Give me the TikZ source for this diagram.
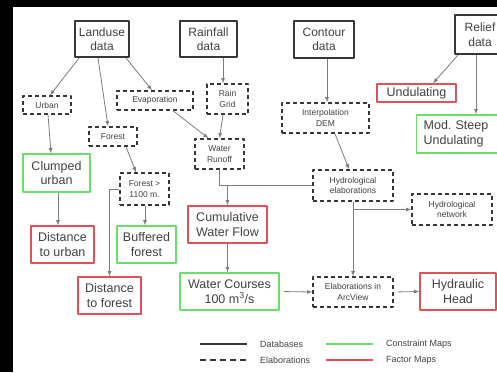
\documentclass[tikz,border=0pt]{standalone}
\usepackage{fontspec}
\setmainfont{Liberation Sans}
\usetikzlibrary{arrows}

\definecolor{factorred}{RGB}{222,82,90}
\definecolor{constraintgreen}{RGB}{104,224,104}
\definecolor{linkgray}{RGB}{125,125,125}
\definecolor{boxgray}{RGB}{55,55,55}
\definecolor{labelgray}{RGB}{65,65,65}

\begin{document}
\begin{tikzpicture}[x=1pt,y=-1pt,join=round,
  database/.style={draw=boxgray,text=labelgray,line width=1.6pt,align=center,inner sep=0pt,font=\fontsize{12}{14.5}\selectfont},
  elaboration/.style={draw=boxgray,text=labelgray,line width=1.5pt,dash pattern=on 4pt off 3pt,align=center,inner sep=0pt,font=\fontsize{8.5}{10.5}\selectfont},
  factor/.style={database,draw=factorred,line width=1.4pt,font=\fontsize{12.5}{14.5}\selectfont},
  constraint/.style={database,draw=constraintgreen,line width=1.4pt,font=\fontsize{12.5}{14.5}\selectfont},
  link/.style={draw=linkgray,line width=0.8pt,-latex},
  legendtext/.style={anchor=west,inner sep=0pt,text=labelgray,font=\fontsize{9}{11}\selectfont}]
        \useasboundingbox (0,0) rectangle (497,372);
        \fill[white] (0,0) rectangle (497,372);
        \fill[black] (0,0) rectangle (13,372);
        \fill[black] (0,0) rectangle (497,7);
        % databases
        \node[database,minimum width=54pt,minimum height=36pt] (landuse) at (102,39) {Landuse\\data};
        \node[database,minimum width=57pt,minimum height=36pt] (rainfall) at (208.5,39) {Rainfall\\data};
        \node[database,minimum width=60pt,minimum height=37pt] (contour) at (324,39.5) {Contour\\data};
        \node[database,minimum width=50pt,minimum height=39pt] (relief) at (480,34.5) {Relief\\data};
        % elaborations
        \node[elaboration,minimum width=48pt,minimum height=18pt] (urban) at (47,105) {Urban};
        \node[elaboration,minimum width=76pt,minimum height=19pt] (evap) at (155,100.5) {Evaporation};
        \node[elaboration,minimum width=41pt,minimum height=30pt] (raingrid) at (227.5,99) {Rain\\Grid};
        \node[elaboration,minimum width=48pt,minimum height=19pt] (forest) at (113,136.5) {Forest};
        \node[elaboration,minimum width=49pt,minimum height=30pt] (runoff) at (219.5,154) {Water\\Runoff};
        \node[elaboration,minimum width=49pt,minimum height=32pt] (forestcut) at (144.5,189) {Forest >\\1100 m.};
        \node[elaboration,minimum width=87pt,minimum height=30pt] (interp) at (325.5,118) {Interpolation\\DEM};
        \node[elaboration,minimum width=80pt,minimum height=31pt] (hydroelab) at (353,185.5) {Hydrological\\elaborations};
        \node[elaboration,minimum width=80pt,minimum height=31pt] (hydronet) at (452,209.5) {Hydrological\\network};
        \node[elaboration,minimum width=80pt,minimum height=30pt] (arcview) at (353,292) {Elaborations in\\ArcView};
        % constraint and factor maps
        \node[constraint,minimum width=67pt,minimum height=38pt] (clumped) at (56.5,173) {Clumped\\urban};
        \node[factor,minimum width=63pt,minimum height=37pt] (disturban) at (62.5,244.5) {Distance\\to urban};
        \node[constraint,minimum width=59pt,minimum height=37pt] (buffered) at (146.5,244.5) {Buffered\\forest};
        \node[factor,minimum width=63pt,minimum height=37pt] (distforest) at (109.5,295.5) {Distance\\to forest};
        \node[factor,minimum width=79pt,minimum height=18pt] (undulating) at (416.5,93) {Undulating};
        \node[constraint,anchor=west,text width=76pt,inner xsep=7pt,minimum height=38pt,align=left] (modsteep) at (416,134) {Mod.\ Steep\\Undulating};
        \node[factor,minimum width=79pt,minimum height=37pt] (cumflow) at (227.5,224.5) {Cumulative\\Water Flow};
        \node[constraint,minimum width=99pt,minimum height=37pt] (courses) at (229.5,291.5) {Water Courses\\100 m\textsuperscript{3}/s};
        \node[factor,minimum width=76pt,minimum height=37pt] (hydraulic) at (458,291.5) {Hydraulic\\Head};
        % links
        \draw[link] ([xshift=5pt]landuse.south west) -- ([xshift=3pt]urban.north);
        \draw[link] ([xshift=-4pt]landuse.south) -- ([xshift=-5pt]forest.north);
        \draw[link] ([xshift=-4pt]landuse.south east) -- ([xshift=-3pt]evap.north);
        \draw[link] ([xshift=14.5pt]rainfall.south) -- ([xshift=-4.5pt]raingrid.north);
        \draw[link] ([xshift=-4.5pt]raingrid.south) -- (runoff.north);
        \draw[link] ([xshift=18pt]evap.south) -- ([xshift=-11pt]runoff.north);
        \draw[link] ([xshift=1pt]urban.south) -- ([xshift=-5.5pt]clumped.north);
        \draw[link] ([xshift=13pt]forest.south) -- ([xshift=-8.5pt]forestcut.north);
        \draw[link] ([xshift=1.5pt]clumped.south) -- ([xshift=-4.5pt]disturban.north);
        \draw[link] ([xshift=0.5pt]forestcut.south) -- ([xshift=-1.5pt]buffered.north);
        \draw[link] (forestcut.west) -| (distforest.north);
        \draw[link] ([xshift=3pt]contour.south) -- ([xshift=1.5pt]interp.north);
        \draw[link] ([xshift=9.5pt]interp.south) -- ([xshift=-4pt]hydroelab.north);
        \draw[link] ([xshift=4pt]relief.south west) -- ([xshift=16.5pt]undulating.north);
        \draw[link] ([xshift=-4pt]relief.south) -- ([xshift=-4pt]relief.south |- modsteep.north);
        \draw[link,-] (runoff.south) |- (hydroelab.west);
        \draw[link] (cumflow.north |- hydroelab.west) -- (cumflow.north);
        \draw[link] (hydroelab.south) -- (arcview.north);
        \draw[link] (hydroelab.south |- hydronet.west) -- (hydronet.west);
        \draw[link] (cumflow.south) -- (cumflow.south |- courses.north);
        \draw[link,shorten <=4pt] (courses.east) -- (arcview.west);
        \draw[link,shorten <=4pt] (arcview.east) -- (hydraulic.west);
        % legend
        \draw[boxgray,line width=1.2pt] (200,344) -- (247,344);
        \draw[boxgray,line width=1.2pt,dash pattern=on 6pt off 4pt] (200,360) -- (247,360);
        \draw[constraintgreen,line width=1.4pt] (326,344) -- (373,344);
        \draw[factorred,line width=1.4pt] (326,360) -- (373,360);
        \node[legendtext] (legdb) at (260,344) {Databases};
        \node[legendtext] (legel) at (260,360) {Elaborations};
        \node[legendtext] (legcm) at (386,344) {Constraint Maps};
        \node[legendtext] (legfm) at (386,360) {Factor Maps};
\end{tikzpicture}
\end{document}
